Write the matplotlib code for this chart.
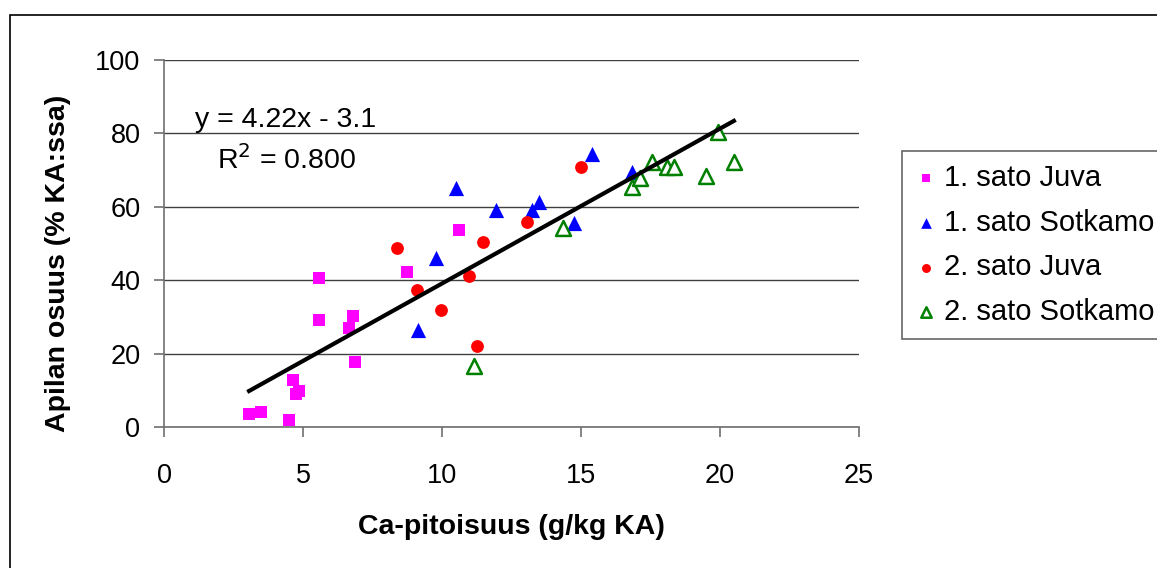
import numpy as np
import matplotlib.pyplot as plt
from matplotlib.patches import Rectangle

plt.rcParams['font.family'] = ['Liberation Sans', 'DejaVu Sans']

# 1. sato Juva
juva1_x = [3.06, 3.5, 4.5, 4.64, 4.75, 4.85, 5.58, 5.58, 6.65, 6.8, 6.87, 8.73, 10.6]
juva1_y = [3.5, 4.0, 2.0, 12.8, 9.0, 9.8, 40.6, 29.2, 27.0, 30.2, 17.7, 42.3, 53.8]
# 1. sato Sotkamo
sotk1_x = [9.13, 9.78, 10.5, 11.94, 13.25, 13.5, 14.75, 15.4, 16.82]
sotk1_y = [26.4, 46.0, 65.0, 59.1, 59.1, 61.2, 55.5, 74.4, 69.4]
# 2. sato Juva
juva2_x = [8.37, 9.09, 9.95, 10.97, 11.47, 11.25, 13.04, 14.99]
juva2_y = [48.8, 37.3, 31.9, 41.1, 50.5, 22.2, 55.9, 70.8]
# 2. sato Sotkamo
sotk2_x = [11.15, 14.36, 16.83, 17.12, 17.55, 18.1, 18.35, 19.5, 20.5, 19.93]
sotk2_y = [16.7, 54.3, 65.3, 67.8, 72.3, 70.8, 70.8, 68.5, 72.3, 80.5]

# trendline y = 4.22x - 3.1
kulma, vakio = 4.22, -3.1

fig = plt.figure(figsize=(11.57, 5.68), dpi=100)
ax = fig.add_axes([164 / 1157, 1 - 427 / 568, 695 / 1157, 367 / 568])

# raami koko kuvan ympärillä
fig.patches.append(Rectangle((10 / 1157, -0.1), 1.2, 1 - 15 / 568 + 0.1,
                             transform=fig.transFigure, fill=False,
                             ec='black', lw=1.2))

ax.scatter(juva1_x, juva1_y, marker='s', s=80, color='#FF00FF', lw=0,
           label='1. sato Juva', zorder=3)
ax.scatter(sotk1_x, sotk1_y, marker='^', s=120, color='#0000FF', lw=0,
           label='1. sato Sotkamo', zorder=3)
ax.scatter(juva2_x, juva2_y, marker='o', s=85, color='#FF0000', lw=0,
           label='2. sato Juva', zorder=3)
ax.scatter(sotk2_x, sotk2_y, marker='^', s=115, facecolor='white',
           edgecolor='#008000', lw=1.8, label='2. sato Sotkamo', zorder=3)

kaikki_x = juva1_x + sotk1_x + juva2_x + sotk2_x
xt = np.array([min(kaikki_x), max(kaikki_x)])
ax.plot(xt, kulma * xt + vakio, color='black', lw=3, zorder=4)

ax.text(4.39, 83.6, 'y = 4.22x - 3.1', fontsize=20.5, ha='center', va='center')
ax.text(4.42, 72.7, 'R$^2$ = 0.800', fontsize=20.5, ha='center', va='center')

ax.set_xlim(0, 25)
ax.set_ylim(0, 100)
ax.set_xticks(range(0, 26, 5))
ax.set_yticks(range(0, 101, 20))
ax.yaxis.grid(True, color='#404040', lw=1)
ax.set_axisbelow(True)
for s in ['top', 'right']:
    ax.spines[s].set_visible(False)
for s in ['left', 'bottom']:
    ax.spines[s].set_color('#707070')
    ax.spines[s].set_linewidth(1.2)
ax.tick_params(axis='both', labelsize=19.5, length=7, width=1.2,
               color='#707070')
ax.tick_params(axis='x', pad=19)
ax.tick_params(axis='y', pad=10)

ax.set_xlabel('Ca-pitoisuus (g/kg KA)', fontsize=20.5, fontweight='bold',
              va='center')
ax.set_ylabel('Apilan osuus (% KA:ssa)', fontsize=20.5, fontweight='bold',
              va='center')
ax.xaxis.set_label_coords(0.5, -0.272)
ax.yaxis.set_label_coords(-0.1525, 0.445)

leg = fig.legend(loc='upper left', bbox_to_anchor=(902 / 1157, 1 - 151 / 568),
                 borderaxespad=0, fontsize=21, frameon=True, fancybox=False,
                 markerscale=0.7, handletextpad=0.25, labelspacing=0.57,
                 borderpad=0.45, handlelength=0.75)
leg.get_frame().set_edgecolor('#404040')
leg.get_frame().set_linewidth(1.2)

fig.savefig('out.png', dpi=100)
